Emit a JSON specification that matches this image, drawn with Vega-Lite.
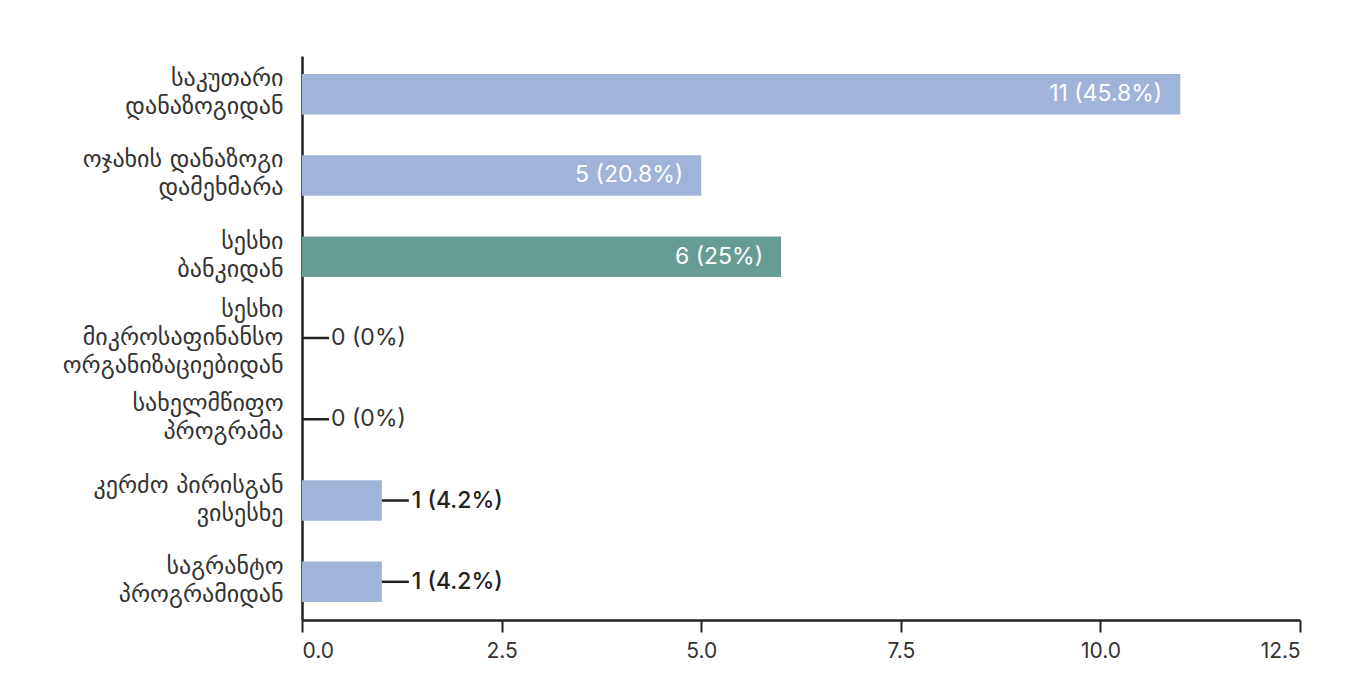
{
  "$schema": "https://vega.github.io/schema/vega-lite/v6.json",
  "width": 998,
  "height": 564,
  "autosize": {"type": "none"},
  "padding": {"left": 302, "top": 56, "right": 52, "bottom": 75},
  "background": "white",
  "config": {
    "view": {"stroke": null},
    "font": "Inter"
  },
  "data": {
    "values": [
      {"category": "საკუთარი|დანაზოგიდან", "value": 11, "label": "11 (45.8%)"},
      {"category": "ოჯახის დანაზოგი|დამეხმარა", "value": 5, "label": "5 (20.8%)"},
      {"category": "სესხი|ბანკიდან", "value": 6, "label": "6 (25%)"},
      {"category": "სესხი|მიკროსაფინანსო|ორგანიზაციებიდან", "value": 0, "label": "0 (0%)"},
      {"category": "სახელმწიფო|პროგრამა", "value": 0, "label": "0 (0%)"},
      {"category": "კერძო პირისგან|ვისესხე", "value": 1, "label": "1 (4.2%)"},
      {"category": "საგრანტო|პროგრამიდან", "value": 1, "label": "1 (4.2%)"}
    ]
  },
  "encoding": {
    "y": {
      "field": "category",
      "type": "nominal",
      "sort": null,
      "scale": {"paddingInner": 0.5, "paddingOuter": 0.22},
      "axis": {
        "title": null,
        "labelExpr": "split(datum.label, '|')",
        "labelFont": "DejaVu Sans",
        "labelFontSize": 24,
        "labelLineHeight": 28,
        "labelColor": "#333333",
        "labelPadding": 19,
        "labelOffset": {"condition": {"test": "length(split(datum.label, '|')) == 3", "value": -28}, "value": -15},
        "ticks": false,
        "domainColor": "#222222",
        "domainWidth": 2.5,
        "labelLimit": 300
      }
    }
  },
  "layer": [
    {
      "mark": {"type": "bar"},
      "encoding": {
        "x": {
          "field": "value",
          "type": "quantitative",
          "scale": {"domain": [0, 12.5], "nice": false},
          "axis": {
            "title": null,
            "values": [0, 2.5, 5, 7.5, 10, 12.5],
            "format": ".1f",
            "grid": false,
            "domainColor": "#222222",
            "domainWidth": 2.5,
            "tickColor": "#222222",
            "tickWidth": 2,
            "tickSize": 12,
            "labelPadding": 8,
            "labelFont": "Inter",
            "labelFontSize": 21,
            "labelColor": "#333333"
          }
        },
        "color": {
          "condition": {"test": "datum.category === 'სესხი|ბანკიდან'", "value": "#679c94"},
          "value": "#a0b4d9"
        }
      }
    },
    {
      "transform": [{"filter": "datum.value >= 3"}],
      "mark": {"type": "text", "align": "right", "baseline": "middle", "dx": -18, "fontSize": 23, "color": "white"},
      "encoding": {
        "x": {"field": "value", "type": "quantitative"},
        "text": {"field": "label"}
      }
    },
    {
      "transform": [{"filter": "datum.value < 3"}],
      "mark": {"type": "rule", "color": "#222222", "strokeWidth": 2.5, "x2Offset": 27},
      "encoding": {
        "x": {"field": "value", "type": "quantitative"},
        "x2": {"field": "value"}
      }
    },
    {
      "transform": [{"filter": "datum.value == 0"}],
      "mark": {"type": "text", "align": "left", "baseline": "middle", "dx": 29, "fontSize": 23, "color": "#333333"},
      "encoding": {
        "x": {"field": "value", "type": "quantitative"},
        "text": {"field": "label"}
      }
    },
    {
      "transform": [{"filter": "datum.value > 0 && datum.value < 3"}],
      "mark": {"type": "text", "align": "left", "baseline": "middle", "dx": 30, "fontSize": 23, "fontWeight": 500, "color": "#222222"},
      "encoding": {
        "x": {"field": "value", "type": "quantitative"},
        "text": {"field": "label"}
      }
    }
  ]
}
